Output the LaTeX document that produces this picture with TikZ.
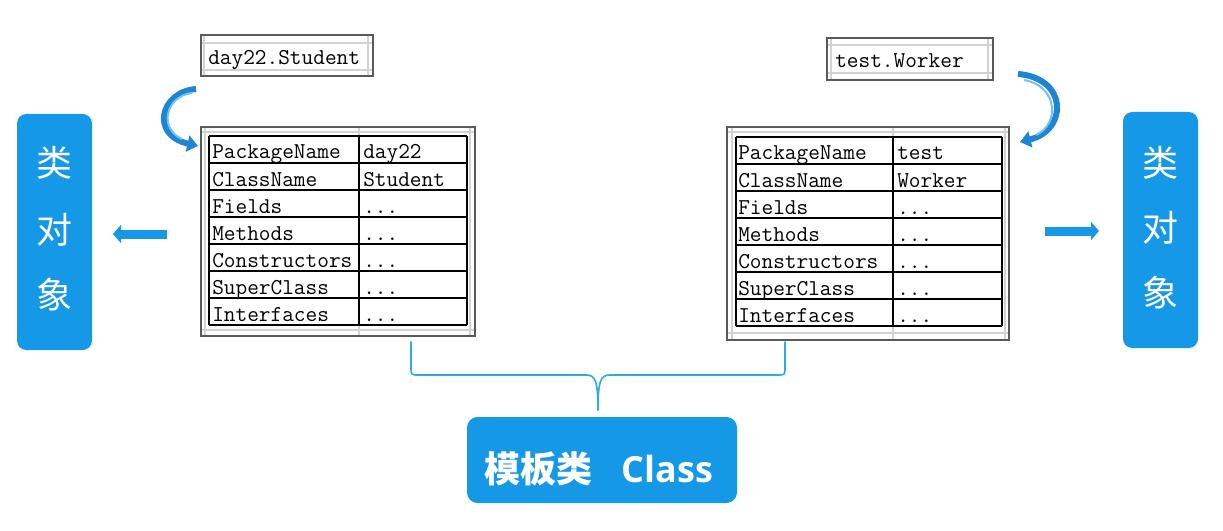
\documentclass[tikz,border=0pt]{standalone}
\usepackage{fontspec}
\newfontfamily\cjk{Noto Sans CJK SC}
\newfontfamily\osans{Open Sans}
\usetikzlibrary{arrows.meta}
\newcommand\tdots{...}
\definecolor{boxblue}{HTML}{1598E6}
\definecolor{braceblue}{HTML}{2AACE6}
\definecolor{arrdark}{HTML}{1E84D4}
\definecolor{arrlight}{HTML}{74C4F2}
\definecolor{framegray}{HTML}{5A5A5A}
\definecolor{gridgray}{HTML}{D2D2D2}
\tikzset{
  bluebox/.style={fill=boxblue,draw=none,inner sep=0pt},
  sidechar/.style={text=white,font=\cjk\fontsize{27}{27}\selectfont,inner sep=0pt},
  cell/.style={font=\ttfamily\fontsize{17}{17}\selectfont,anchor=base west,inner sep=0pt},
  tabline/.style={draw=black,line width=1.5pt},
  framel/.style={draw=framegray,line width=1.6pt},
  gridl/.style={draw=gridgray,line width=1.1pt},
  fatarrow/.style={draw=boxblue,line width=6.75pt,-{Triangle[width=13.5pt,length=6pt]}},
  curvearrow/.style={draw=arrdark,line width=4.5pt,-{Triangle[width=12pt,length=8pt]}},
  curvelight/.style={draw=arrlight,line width=1.5pt},
  bracel/.style={draw=braceblue,line width=1.2pt,line cap=round}
}
\begin{document}
\begin{tikzpicture}[x=0.75pt,y=-0.75pt]
\useasboundingbox[fill=white] (0,0) rectangle (1223,531);

% ---------- side boxes ----------
\node[bluebox,rounded corners=7pt,minimum width=75*0.75pt,minimum height=236*0.75pt] (lobj) at (54.5,232) {};
\node[sidechar] (lobja) at (54.5,163) {类};
\node[sidechar] (lobjb) at (54.5,230) {对};
\node[sidechar] (lobjc) at (54.5,295) {象};

\node[bluebox,rounded corners=7pt,minimum width=75*0.75pt,minimum height=236*0.75pt] (robj) at (1160.5,230) {};
\node[sidechar] (robja) at (1160.5,163) {类};
\node[sidechar] (robjb) at (1160.5,228) {对};
\node[sidechar] (robjc) at (1160.5,293) {象};

% ---------- straight arrows ----------
\coordinate (la1) at (167,234);
\coordinate (la2) at (113,234);
\draw[fatarrow] (la1) -- (la2);
\coordinate (ra1) at (1045,231);
\coordinate (ra2) at (1099,231);
\draw[fatarrow] (ra1) -- (ra2);

% ---------- left label box ----------
\draw[gridl] (201,43) -- (373,43) (201,70) -- (373,70) (204,35) -- (204,76) (368,35) -- (368,76);
\draw[framel] (201,35) rectangle (373,76);
\node[cell] (llab) at (208,65) {day22.Student};

% ---------- right label box ----------
\draw[gridl] (827,45) -- (993,45) (827,73) -- (993,73) (831,38) -- (831,80) (988,38) -- (988,80);
\draw[framel] (827,38) rectangle (993,80);
\node[cell] (rlab) at (835,68) {test.Worker};

% ---------- left table ----------
\draw[gridl] (201,132) -- (475,132) (201,330) -- (475,330) (205,127) -- (205,336) (359,127) -- (359,336) (470,127) -- (470,336);
\draw[framel] (201,127) rectangle (475,336);
\foreach \i in {0,...,7} \draw[tabline] (209,{136+27*\i}) -- (467,{136+27*\i});
\draw[tabline] (209,136) -- (209,325) (359,136) -- (359,325) (467,136) -- (467,325);
\foreach \lab [count=\i from 0] in {PackageName,ClassName,Fields,Methods,Constructors,SuperClass,Interfaces}
  \node[cell] (lk\i) at (212,{136+27*\i+23}) {\lab};
\foreach \val [count=\i from 0] in {day22,Student,\tdots,\tdots,\tdots,\tdots,\tdots}
  \node[cell] (lv\i) at (363,{136+27*\i+23}) {\val};

% ---------- right table ----------
\draw[gridl] (727,132) -- (1009,132) (727,333) -- (1009,333) (732,127) -- (732,340) (893,127) -- (893,340) (1005,127) -- (1005,340);
\draw[framel] (727,127) rectangle (1009,340);
\foreach \i in {0,...,7} \draw[tabline] (736,{137+27*\i}) -- (1002,{137+27*\i});
\draw[tabline] (736,137) -- (736,326) (893,137) -- (893,326) (1002,137) -- (1002,326);
\foreach \lab [count=\i from 0] in {PackageName,ClassName,Fields,Methods,Constructors,SuperClass,Interfaces}
  \node[cell] (rk\i) at (738,{137+27*\i+23}) {\lab};
\foreach \val [count=\i from 0] in {test,Worker,\tdots,\tdots,\tdots,\tdots,\tdots}
  \node[cell] (rv\i) at (897,{137+27*\i+23}) {\val};

% ---------- curved arrows ----------
\coordinate (lc1) at (196,89);
\coordinate (lc2) at (198,146);
\draw[curvearrow] (lc1) .. controls (160,92) and (150,135) .. (lc2);
\draw[curvelight] (192,93) .. controls (166,96) and (158,128) .. (182,139);
\coordinate (rc1) at (1018,74);
\coordinate (rc2) at (1020,142);
\draw[curvearrow] (rc1) .. controls (1068,78) and (1068,130) .. (rc2);
\draw[curvelight] (1024,80) .. controls (1058,86) and (1060,124) .. (1036,135);

% ---------- brace ----------
\coordinate (bl) at (411,342);
\coordinate (br) at (785,342);
\coordinate (bm) at (598,410);
\draw[bracel] (bl) -- (411,367) .. controls (411,375) .. (419,375) -- (586,375)
  .. controls (595,375) and (598,380) .. (bm);
\draw[bracel] (br) -- (785,367) .. controls (785,375) .. (777,375) -- (610,375)
  .. controls (601,375) and (598,380) .. (bm);

% ---------- class box ----------
\node[bluebox,rounded corners=8pt,minimum width=270*0.75pt,minimum height=86*0.75pt] (cls) at (602,460) {};
\node[anchor=base,inner sep=0pt,text=white] (clstext) at (599,482)
  {{\cjk\bfseries\fontsize{27}{27}\selectfont 模板类}\hspace{22pt}{\osans\bfseries\fontsize{27}{27}\selectfont Class}};
\end{tikzpicture}
\end{document}
